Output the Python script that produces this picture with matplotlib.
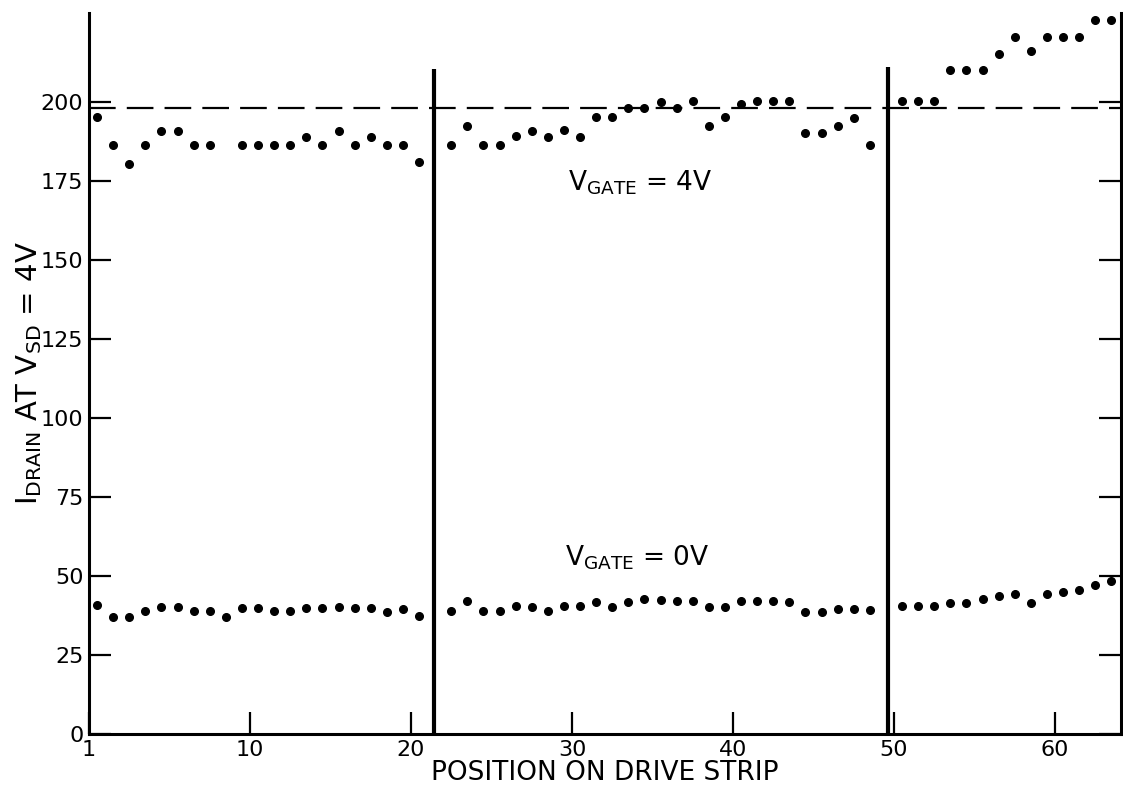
import matplotlib.pyplot as plt
import numpy as np

# strip positions (1..64); 22 and 50 sit under the strip boundaries
pos_a = [1, 2, 3, 4, 5, 6, 7, 8, 10, 11, 12, 13, 14, 15, 16, 17, 18, 19, 20, 21]
drain_4v_a = [195.2, 186.3, 180.3, 186.3, 190.8, 190.8, 186.3, 186.3, 186.3, 186.3,
              186.3, 186.3, 188.7, 186.3, 190.8, 186.3, 188.7, 186.3, 186.3, 180.8]
pos_b = list(range(23, 50)) + list(range(51, 65))
drain_4v_b = [186.4, 192.2, 186.4, 186.4, 189.2, 190.7, 188.9, 190.9, 188.9, 195.3,
              195.3, 198.1, 198.1, 200.0, 198.1, 200.2, 192.2, 195.3, 199.2, 200.2,
              200.3, 200.3, 190.1, 190.1, 192.2, 194.8, 186.3,
              200.3, 200.3, 200.3, 210.1, 210.1, 210.1, 215.2, 220.4, 215.9, 220.4,
              220.4, 220.4, 225.7, 225.7]

pos_0v = list(range(1, 22)) + list(range(23, 50)) + list(range(51, 65))
drain_0v = [40.8, 37.1, 37.1, 39.0, 40.1, 40.1, 39.0, 39.0, 37.1, 39.8, 39.8, 39.0,
            39.0, 39.8, 39.8, 40.1, 39.8, 39.8, 38.7, 39.6, 37.4,
            39.0, 42.2, 39.0, 39.0, 40.5, 40.3, 39.0, 40.5, 40.5, 41.7, 40.3, 41.8,
            42.6, 42.4, 42.2, 42.2, 40.3, 40.1, 42.0, 42.0, 42.0, 41.7, 38.6, 38.6,
            39.6, 39.5, 39.1,
            40.6, 40.6, 40.6, 41.5, 41.5, 42.6, 43.8, 44.3, 41.5, 44.3, 44.9, 45.7,
            47.1, 48.3]

boundaries = [21.9, 50.1]
boundary_tops = [210.4, 211.0]
ref_level = 198

xtick_pos = [0.5, 10.5, 20.5, 30.5, 40.5, 50.5, 60.5]
xtick_labels = ['1', '10', '20', '30', '40', '50', '60']
yticks = [0, 25, 50, 75, 100, 125, 150, 175, 200]

plt.rcParams['font.family'] = ['DejaVu Sans']

fig = plt.figure(figsize=(11.23, 7.87), dpi=100)
ax = fig.add_axes([0.0793, 0.0673, 0.9189, 0.916])

ax.plot(pos_a + pos_b, drain_4v_a + drain_4v_b, 'o', color='black', markersize=5.5)
ax.plot(pos_0v, drain_0v, 'o', color='black', markersize=5.5)

ax.axhline(ref_level, color='black', lw=1.6, dashes=(12, 5))
ax.vlines(boundaries, 0, boundary_tops, color='black', lw=3)

ax.set_xlim(0.5, 64.6)
ax.set_ylim(0, 228)
ax.set_xticks(xtick_pos)
ax.set_xticklabels(xtick_labels)
ax.set_yticks(yticks)

ax.spines['top'].set_visible(False)
for s in ['left', 'right', 'bottom']:
    ax.spines[s].set_linewidth(2.2)

ax.tick_params(axis='both', direction='in', length=16, width=1.6, labelsize=16)
ax.tick_params(axis='y', right=True, pad=4)
ax.tick_params(axis='x', pad=4)

ax.set_xlabel('POSITION ON DRIVE STRIP', fontsize=19, labelpad=0)
ax.set_ylabel(r'I$_{\mathregular{DRAIN}}$ AT V$_{\mathregular{SD}}$ = 4V', fontsize=21, labelpad=-2)

fig.text(640 / 1123, 1 - 183 / 787, r'V$_{\mathregular{GATE}}$ = 4V', fontsize=19,
         ha='center', va='center')
fig.text(637 / 1123, 1 - 558 / 787, r'V$_{\mathregular{GATE}}$ = 0V', fontsize=19,
         ha='center', va='center')

fig.savefig('out.png', dpi=100)
